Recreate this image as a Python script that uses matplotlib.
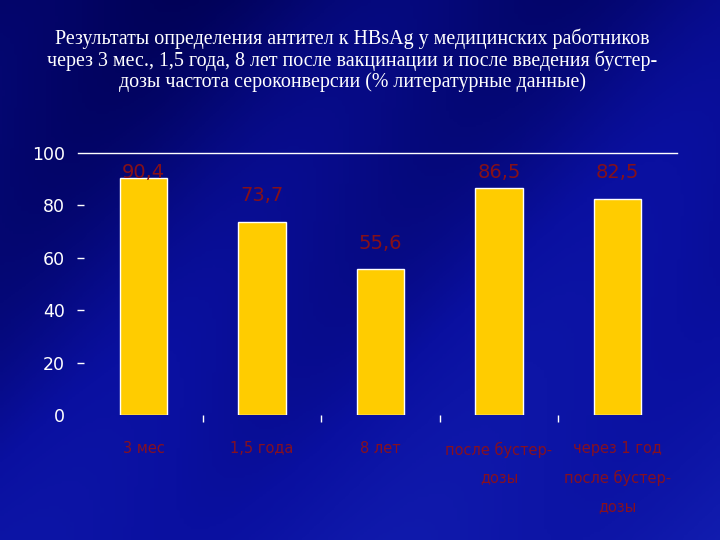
#Seroconversion after HBsAg vaccination, bar chart

import matplotlib.pyplot as plt
import numpy as np

categories = ['3 мес', '1,5 года', '8 лет', 'после бустер-\nдозы', 'через 1 год\nпосле бустер-\nдозы']
values = [90.4, 73.7, 55.6, 86.5, 82.5]
value_labels = ['90,4', '73,7', '55,6', '86,5', '82,5']
yticks = [0, 20, 40, 60, 80, 100]

title = ('Результаты определения антител к HBsAg у медицинских работников\n'
         'через 3 мес., 1,5 года, 8 лет после вакцинации и после введения бустер-\n'
         'дозы частота сероконверсии (% литературные данные)')

fig = plt.figure(figsize=(7.2, 5.4), dpi=100)

# background gradient
bg = fig.add_axes([0, 0, 1, 1])
yy, xx = np.mgrid[0:1:200j, 0:1:200j]
grad = 0.35 + 0.4*yy + 0.2*xx - 0.15*np.sin(6*xx + 3*yy)**2
bg.imshow(grad, cmap=plt.matplotlib.colors.LinearSegmentedColormap.from_list(
    'bl', ['#000050', '#0a10a0', '#1624b8']), aspect='auto', extent=[0, 1, 0, 1],
    vmin=0.2, vmax=1.1)
bg.set_axis_off()

fig.text(0.489, 0.948, title, ha='center', va='top', color='white',
         family='Liberation Serif', fontsize=14.4, linespacing=1.1)

ax = fig.add_axes([0.117, 0.2315, 0.823, 0.4852])
ax.patch.set_alpha(0)
x = np.arange(len(categories))
ax.bar(x, values, width=0.4, color='#FFCC00', edgecolor='white', linewidth=1)
for xi, v, lab in zip(x, values, value_labels):
    ax.text(xi, min(v + 10, 92.5), lab, ha='center', va='center',
            color='#861018', fontsize=14)

ax.set_xlim(-0.5, len(categories) - 0.5)
ax.set_ylim(0, 100)
for s in ['left', 'right', 'bottom']:
    ax.spines[s].set_visible(False)
ax.spines['top'].set_color('white')
ax.spines['top'].set_linewidth(1)
ax.spines['top'].set_bounds(-0.55, 4.5)

ax.set_yticks(yticks)
ax.set_yticklabels([str(t) for t in yticks], color='white', fontsize=12.5)
ax.tick_params(axis='y', length=5, width=1, color='white', pad=9)
for t in (ax.yaxis.get_major_ticks()[0], ax.yaxis.get_major_ticks()[-1]):
    t.tick1line.set_visible(False)

ax.set_xticks(x)
ax.set_xticklabels(categories, color='#861020', fontsize=10.5, linespacing=2.05, va='top')
ax.tick_params(axis='x', length=0, pad=19)
ax.set_xticks(x[:-1] + 0.5, minor=True)
ax.tick_params(axis='x', which='minor', length=5, width=1, color='white', direction='out')

plt.savefig('out.png', dpi=100)
